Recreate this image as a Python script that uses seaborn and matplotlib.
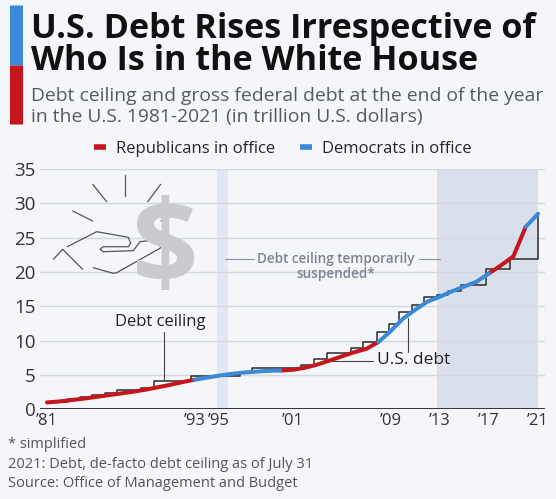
import numpy as np
import pandas as pd
import seaborn as sns
import matplotlib.pyplot as plt
from matplotlib.lines import Line2D

# gross federal debt at year end (trillion USD)
years = list(range(1981, 2022))
debt = [1.0, 1.14, 1.35, 1.55, 1.8, 2.05, 2.3, 2.55, 2.85, 3.2,
        3.55, 3.95, 4.3, 4.6, 4.9, 5.15, 5.35, 5.48, 5.6, 5.65,
        5.75, 6.05, 6.5, 7.1, 7.7, 8.3, 8.8, 9.8, 11.4, 13.2,
        14.5, 15.7, 16.4, 17.2, 17.9, 18.6, 19.8, 21.0, 22.3, 26.6,
        28.5]

# who was in office for each stretch of the line
term_start = [1981, 1993, 2000, 2008, 2017, 2020]
term_end = [1993, 2000, 2008, 2017, 2020, 2021]
term_party = ["Republicans in office", "Democrats in office",
              "Republicans in office", "Democrats in office",
              "Republicans in office", "Democrats in office"]

# debt ceiling (simplified step line)
ceiling_x = [1981, 1982.7, 1983.7, 1984.7, 1985.7, 1986.7, 1988.7, 1989.7,
             1992.7, 1996.7, 1997.7, 2001.7, 2002.75, 2003.8, 2005.75,
             2006.75, 2007.85, 2008.85, 2009.7, 2010.7, 2011.7, 2012.75,
             2013.7, 2014.75, 2016.75, 2018.72, 2021, 2021]
ceiling_y = [1.1, 1.45, 1.75, 2.08, 2.33, 2.8, 3.15, 4.15, 4.9, 5.5, 5.95,
             6.45, 7.35, 8.18, 8.97, 9.85, 11.3, 12.4, 14.25, 15.2, 16.35,
             16.7, 17.2, 18.1, 20.5, 21.95, 21.95, 28.45]

# periods where the ceiling was suspended
suspended_start = [1994.85, 2012.75]
suspended_end = [1995.75, 2021.0]

xtick_years = [1981, 1993, 1995, 2001, 2009, 2013, 2017, 2021]
xtick_labels = ["\u201981", "\u201993", "\u201995", "\u201901", "\u201909",
                "\u201913", "\u201917", "\u201921"]
yticks = [0, 5, 10, 15, 20, 25, 30, 35]

RED = "#c4161c"
BLUE = "#3b89d8"
BG = "#f4f6fa"

rows = []
for s, e, p in zip(term_start, term_end, term_party):
    for yr, v in zip(years, debt):
        if s <= yr <= e:
            rows.append({"year": yr, "debt": v, "party": p, "term": s})
df = pd.DataFrame(rows)
ceil_df = pd.DataFrame({"x": ceiling_x, "y": ceiling_y})

sns.set_theme(style="white")
plt.rcParams["font.family"] = ["Open Sans", "DejaVu Sans"]

fig = plt.figure(figsize=(5.56, 4.99), dpi=100, facecolor=BG)
ax = fig.add_axes([0.0719, 0.1798, 0.9083, 0.4812])
ax.set_facecolor(BG)
ax.set_axisbelow(True)

ax.axvspan(suspended_start[0], suspended_end[0], color="#e1e8f2", zorder=0.2, lw=0)
ax.axvspan(suspended_start[1], suspended_end[1], color="#d9e0eb", zorder=0.2, lw=0)

sns.lineplot(data=ceil_df, x="x", y="y", estimator=None, sort=False,
             drawstyle="steps-post", color="#2b2b2b", lw=1.1, ax=ax, zorder=3)
sns.lineplot(data=df, x="year", y="debt", hue="party", units="term",
             estimator=None, sort=False,
             hue_order=["Republicans in office", "Democrats in office"],
             palette={"Republicans in office": RED, "Democrats in office": BLUE},
             lw=2.9, solid_capstyle="round", ax=ax, zorder=4)

ax.set_xlim(1980.43, 2021.57)
ax.set_ylim(0, 35)
ax.set_xticks(xtick_years)
ax.set_xticklabels(xtick_labels)
ax.set_yticks(yticks)
ax.tick_params(axis="x", length=0, pad=3, labelsize=12, labelcolor="#333333")
ax.tick_params(axis="y", length=0, pad=3, labelsize=13.5, labelcolor="#333333")
ax.grid(axis="y", color="#d3d7de", lw=1)
ax.axhline(0, color="#333333", lw=1.4, zorder=5)
sns.despine(ax=ax, left=True, bottom=True)
ax.set_xlabel("")
ax.set_ylabel("")

# annotations
ax.text(1990.2, 12.7, "Debt ceiling", ha="center", va="center", fontsize=12, color="#222222")
ax.plot([1990.5, 1990.5], [4.2, 11.3], color="#444444", lw=0.8, zorder=2)
ax.text(2007.85, 7.2, "U.S. debt", ha="left", va="center", fontsize=12.5, color="#222222")
ax.plot([2004.1, 2007.55], [7.05, 7.05], color="#444444", lw=0.8, zorder=2)
ax.plot([2010.4, 2010.4], [8.3, 13.3], color="#444444", lw=0.8, zorder=2)
ax.text(2004.55, 20.8, "Debt ceiling temporarily\nsuspended*", ha="center", va="center",
        fontsize=9.8, color="#7d8594", fontweight="semibold", linespacing=1.1)
ax.plot([1995.5, 1997.9], [21.9, 21.9], color="#8a8f99", lw=0.8)
ax.plot([2011.3, 2013.0], [21.9, 21.9], color="#8a8f99", lw=0.8)

sns.move_legend(ax, "center", bbox_to_anchor=(0.509, 0.701), bbox_transform=fig.transFigure,
                ncol=2, frameon=False, title=None, fontsize=12, handlelength=0.7,
                columnspacing=1.5, handletextpad=0.6)
for h in ax.get_legend().get_lines():
    h.set_linewidth(4)
    h.set_solid_capstyle("butt")

# title block
fig.add_artist(Line2D([15.5 / 556, 15.5 / 556], [1 - 5 / 499, 1 - 65 / 499],
                      transform=fig.transFigure, color=BLUE, lw=9.4, solid_capstyle="butt"))
fig.add_artist(Line2D([15.5 / 556, 15.5 / 556], [1 - 65 / 499, 1 - 124 / 499],
                      transform=fig.transFigure, color=RED, lw=9.4, solid_capstyle="butt"))
fig.text(31 / 556, 1 - 38 / 499, "U.S. Debt Rises Irrespective of", fontsize=24.6,
         fontweight="bold", color="#111111", va="baseline", ha="left")
fig.text(31 / 556, 1 - 70 / 499, "Who Is in the White House", fontsize=24.6,
         fontweight="bold", color="#111111", va="baseline", ha="left")
fig.text(31 / 556, 1 - 101 / 499, "Debt ceiling and gross federal debt at the end of the year",
         fontsize=13.9, color="#555a63", va="baseline", ha="left")
fig.text(31 / 556, 1 - 122 / 499, "in the U.S. 1981-2021 (in trillion U.S. dollars)",
         fontsize=13.9, color="#555a63", va="baseline", ha="left")

# footer
fig.text(8 / 556, 1 - 448 / 499, "* simplified", fontsize=10.5, color="#555555", va="baseline")
fig.text(8 / 556, 1 - 468 / 499, "2021: Debt, de-facto debt ceiling as of July 31",
         fontsize=10.5, color="#555555", va="baseline")
fig.text(8 / 556, 1 - 487 / 499, "Source: Office of Management and Budget",
         fontsize=10.5, color="#555555", va="baseline")

# hand-with-dollar icon
fig.text(165 / 556, 1 - 253 / 499, "$", fontsize=84, fontweight="bold", color="#c9cbcf",
         ha="center", va="center")
rays = [[(125, 175), (125, 196)], [(92.7, 184.3), (106.7, 201.7)],
        [(160.7, 184.3), (147.7, 201.7)], [(72.7, 211), (92.7, 221)],
        [(180.7, 211.7), (161, 221)]]
hand = [(67.3, 246.7), (96.7, 231.7), (128.3, 237.3), (130.7, 243.3), (128.3, 246.7),
        (103.3, 246.7), (100, 249.3), (103.3, 251.7), (133.3, 250.7), (140, 241.7),
        (160, 239.3), (162.7, 243.3), (160, 248.3), (116.7, 272.7), (113.3, 273.3),
        (93.3, 267.7)]
cuff = [(53.3, 259.3), (62.7, 249.3), (82.7, 269.3)]
for pts in rays + [hand, cuff]:
    xs = [p[0] / 556 for p in pts]
    ys = [1 - p[1] / 499 for p in pts]
    fig.add_artist(Line2D(xs, ys, transform=fig.transFigure, color="#555555", lw=0.9,
                          solid_joinstyle="round"))

fig.savefig("out.png", dpi=100, facecolor=BG)
